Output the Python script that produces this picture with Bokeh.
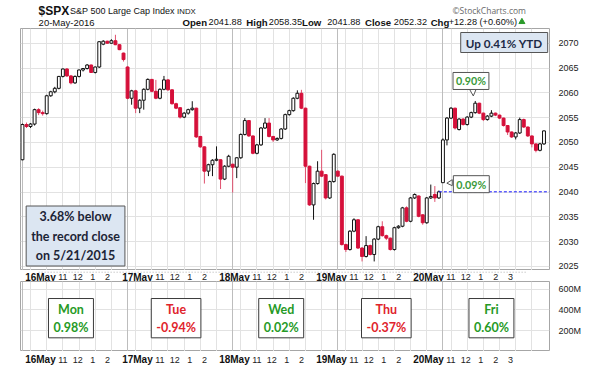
import numpy as np
from bokeh.plotting import figure
from bokeh.models import (Range1d, FixedTicker, Grid, Label, ColumnDataSource,
                          PrintfTickFormatter)
from bokeh.layouts import column
from bokeh.core.properties import value
from bokeh.embed import file_html
from bokeh.resources import INLINE

# ---------------- data ----------------
day_labels = ["16May", "17May", "18May", "19May", "20May"]
weekdays = ["Mon", "Tue", "Wed", "Thu", "Fri"]
day_change_pct = [0.98, -0.94, 0.02, -0.37, 0.60]
hour_ticks = [10, 11, 12, 13, 14, 15]
hour_tick_labels = ["", "11", "12", "1", "2", "3"]
bars_per_day = 26
price_ticks = [2025, 2030, 2035, 2040, 2045, 2050, 2055, 2060, 2065, 2070]
volume_ticks = [200, 400, 600]
ytd_pct = 0.41
record_gap_pct = 3.68
record_date = "5/21/2015"
hdr_names = ["Open", "High", "Low", "Close", "Chg"]
hdr_values = ["2041.88", "2058.35", "2041.88", "2052.32", "+12.28 (+0.60%)"]

opens = [
    2046.5, 2053.6, 2053.2, 2053.7, 2056.6, 2056.0, 2055.8, 2059.4, 2060.2, 2060.9, 2063.3, 2064.8, 2063.4,
    2062.0, 2063.3, 2064.6, 2064.9, 2065.6, 2064.1, 2065.2, 2069.8, 2070.4, 2070.0, 2070.5, 2069.7, 2068.0,
    2065.2, 2058.9, 2060.4, 2056.9, 2058.5, 2060.7, 2062.7, 2060.3, 2058.9, 2060.7, 2062.6, 2060.6, 2057.8,
    2057.0, 2055.1, 2055.9, 2056.6, 2056.9, 2051.2, 2049.1, 2044.2, 2045.5, 2046.4, 2046.5, 2042.6, 2045.2,
    2045.6, 2045.0, 2046.9, 2051.6, 2054.4, 2051.3, 2047.8, 2049.5, 2052.9, 2053.9, 2051.2, 2050.5, 2050.8,
    2052.7, 2055.6, 2056.4, 2058.9, 2059.9, 2056.9, 2045.2, 2037.4, 2041.7, 2044.2, 2043.5, 2038.8, 2042.1,
    2044.2, 2043.2, 2029.4, 2028.4, 2032.1, 2034.4, 2028.7, 2027.0, 2029.2, 2027.4, 2030.5, 2033.0, 2031.2,
    2030.7, 2028.4, 2032.8, 2033.1, 2036.8, 2034.1, 2038.8, 2039.2, 2035.4, 2033.8, 2038.8, 2039.5, 2038.8,
    2041.88, 2050.5, 2054.9, 2056.9, 2052.6, 2054.7, 2053.6, 2055.1, 2056.0, 2057.9, 2055.9, 2054.6, 2055.3,
    2055.9, 2055.5, 2054.9, 2053.4, 2052.1, 2051.1, 2051.9, 2054.6, 2053.1, 2051.3, 2049.7, 2048.4, 2049.7,
]
highs = [
    2053.8, 2054.0, 2053.9, 2056.8, 2056.9, 2056.4, 2059.6, 2060.4, 2061.2, 2063.4, 2064.9, 2065.0, 2063.6,
    2063.5, 2064.7, 2065.0, 2065.8, 2065.7, 2065.3, 2070.4, 2070.6, 2070.5, 2070.8, 2071.7, 2069.8, 2068.1,
    2065.4, 2060.6, 2060.6, 2058.7, 2060.9, 2062.9, 2062.8, 2062.6, 2060.9, 2063.4, 2062.8, 2060.7, 2058.0,
    2057.1, 2056.1, 2056.8, 2058.3, 2057.0, 2051.3, 2049.2, 2045.7, 2046.6, 2049.2, 2046.6, 2045.4, 2047.5,
    2045.7, 2047.0, 2051.8, 2054.9, 2054.5, 2051.4, 2049.7, 2053.1, 2054.9, 2054.9, 2051.3, 2051.0, 2052.9,
    2055.8, 2056.6, 2059.1, 2060.5, 2060.6, 2057.0, 2045.3, 2041.9, 2046.2, 2048.5, 2043.6, 2042.3, 2047.8,
    2044.4, 2043.3, 2029.6, 2032.3, 2034.7, 2034.5, 2028.9, 2031.1, 2029.4, 2030.7, 2033.2, 2034.1, 2031.4,
    2030.8, 2033.0, 2033.3, 2037.0, 2037.1, 2039.0, 2039.7, 2039.3, 2035.5, 2039.0, 2041.5, 2041.2, 2040.3,
    2050.8, 2055.1, 2057.1, 2057.0, 2054.9, 2054.9, 2055.3, 2056.2, 2058.35, 2058.0, 2056.0, 2055.5, 2056.5,
    2056.0, 2055.6, 2055.0, 2053.5, 2052.2, 2052.1, 2055.0, 2054.8, 2053.2, 2051.4, 2049.8, 2049.9, 2052.4,
]
lows = [
    2046.4, 2052.9, 2052.9, 2053.4, 2055.5, 2055.4, 2055.6, 2059.2, 2059.9, 2060.7, 2063.1, 2063.2, 2061.7,
    2061.8, 2063.1, 2064.3, 2064.7, 2064.0, 2063.9, 2065.0, 2069.6, 2069.9, 2069.9, 2069.6, 2068.6, 2066.3,
    2058.7, 2057.6, 2055.9, 2055.9, 2056.6, 2060.5, 2060.1, 2058.7, 2058.7, 2060.5, 2060.4, 2057.6, 2056.7,
    2054.8, 2054.9, 2055.6, 2056.4, 2050.9, 2048.9, 2041.7, 2043.2, 2043.2, 2046.2, 2040.6, 2042.4, 2045.0,
    2039.9, 2042.8, 2046.7, 2051.4, 2051.1, 2047.6, 2047.6, 2049.3, 2052.7, 2051.0, 2050.1, 2050.3, 2050.6,
    2052.5, 2055.4, 2056.2, 2058.7, 2056.7, 2041.8, 2037.2, 2034.4, 2041.5, 2043.0, 2038.5, 2038.6, 2041.9,
    2043.0, 2029.2, 2027.9, 2028.2, 2031.9, 2028.5, 2026.0, 2026.8, 2027.2, 2026.0, 2030.3, 2031.0, 2030.3,
    2028.2, 2028.2, 2032.6, 2032.9, 2033.9, 2033.9, 2038.6, 2034.9, 2033.4, 2033.6, 2038.6, 2038.0, 2038.6,
    2041.88, 2049.4, 2054.7, 2052.6, 2052.4, 2053.4, 2053.4, 2054.9, 2055.8, 2055.7, 2054.3, 2054.4, 2055.1,
    2055.3, 2054.7, 2053.2, 2051.5, 2050.9, 2050.6, 2051.7, 2052.9, 2051.1, 2049.0, 2048.0, 2048.2, 2049.5,
]
closes = [
    2053.6, 2053.2, 2053.7, 2056.6, 2056.0, 2055.8, 2059.4, 2060.2, 2060.9, 2063.3, 2064.8, 2063.4, 2062.0,
    2063.3, 2064.6, 2064.9, 2065.6, 2064.1, 2065.2, 2070.3, 2070.4, 2070.0, 2070.5, 2069.7, 2068.7, 2066.7,
    2058.9, 2060.4, 2056.9, 2058.5, 2060.7, 2062.7, 2060.3, 2058.9, 2060.7, 2062.6, 2060.6, 2057.8, 2056.9,
    2055.1, 2055.9, 2056.6, 2056.9, 2051.1, 2049.1, 2044.2, 2045.5, 2046.4, 2046.6, 2042.6, 2045.2, 2047.2,
    2045.0, 2046.9, 2051.6, 2054.4, 2051.3, 2047.8, 2049.5, 2052.9, 2053.9, 2051.2, 2050.5, 2050.8, 2052.7,
    2055.6, 2056.4, 2058.9, 2059.9, 2056.9, 2045.2, 2037.4, 2041.7, 2044.2, 2043.2, 2038.8, 2042.1, 2047.6,
    2043.2, 2029.4, 2028.4, 2032.1, 2034.4, 2028.7, 2027.0, 2029.2, 2027.4, 2030.5, 2033.0, 2031.2, 2030.7,
    2028.4, 2032.8, 2033.1, 2036.8, 2034.1, 2038.8, 2039.5, 2035.1, 2033.8, 2038.8, 2039.1, 2038.8, 2040.04,
    2050.5, 2054.9, 2056.9, 2052.9, 2054.7, 2053.6, 2055.1, 2056.0, 2057.9, 2055.9, 2054.6, 2055.3, 2055.9,
    2055.5, 2054.9, 2053.4, 2052.1, 2051.1, 2051.9, 2054.6, 2053.1, 2051.3, 2049.7, 2048.4, 2049.7, 2052.32,
]

# ---------------- layout constants (canvas ~ reference pixels) ----------------
W = 584
H_HEAD, H_PRICE, H_BAND1, H_VOL, H_BAND2 = 28, 242, 11, 70, 16
K = (559 - 20) / (563 - 20)            # slight horizontal squeeze to fit the axis labels
def fxr(x): return 20 + (x - 20) * K
PX_PER_BAR = 4.15 * K
PX_PER_PT = 4.96
X0 = fxr(22)                           # canvas x of bar 0
FL, FR = 20, 559                       # price/volume frame in canvas px
xr_frame = ((FL - X0) / PX_PER_BAR, (FR - X0) / PX_PER_BAR)
xr_full = ((0 - X0) / PX_PER_BAR, (W - X0) / PX_PER_BAR)
P_TOP = 2070 + (42.7 - H_HEAD) / PX_PER_PT
P_BOT = 2070 - (H_HEAD + H_PRICE - 42.7) / PX_PER_PT
V_TOP = 600 * H_VOL / (H_VOL - 7.5)

RED = "#d5103a"
GREEN = "#269a26"
TXTRED = "#e0242c"
GRID = "#e2e2e2"
DAYGRID = "#bdbdbd"
AFONT = "Lato"
HFONT = "Liberation Sans"

n = len(closes)
idx = np.arange(n)
day_starts = [d * bars_per_day for d in range(len(day_labels))]
hour_pos = [ds + (h - 9.5) * 4 for ds in day_starts for h in hour_ticks]

def ref_idx(x): return (x - 22) / 4.15
def ref_price(y): return 2070 - (y - 42.7) / PX_PER_PT

# ---------------- header ----------------
hdr = figure(width=W, height=H_HEAD, x_range=Range1d(0, W), y_range=Range1d(H_HEAD, 0),
             x_axis_type=None, y_axis_type=None, toolbar_location=None, output_backend="svg",
             min_border=0, outline_line_color=None, title=None)
L1, L2 = 10.5, 21.8
txt = dict(text_font=value(HFONT), text_color="#111111", text_baseline="middle")
hdr.text(x=[fxr(20)], y=[L1], text=["$SPX"], text_font_size="12px", text_font_style="bold", **txt)
hdr.text(x=[fxr(55)], y=[L1], text=["S&P 500 Large Cap Index"], text_font_size="9px", **txt)
hdr.text(x=[fxr(174)], y=[L1], text=["INDX"], text_font_size="7.8px", **txt)
hdr.text(x=[fxr(20)], y=[L2], text=["20-May-2016"], text_font_size="9.5px", **txt)
name_x = [180, 251, 313, 383, 456]
val_x = [209, 276, 341, 415, 476]
hdr.text(x=[fxr(v) for v in name_x], y=[L2] * 5, text=hdr_names, text_font_size="9.6px",
         text_font_style="bold", **txt)
hdr.text(x=[fxr(v) for v in val_x], y=[L2] * 5, text=hdr_values, text_font_size="9.2px", **txt)
hdr.scatter(x=[fxr(557.5)], y=[L2 - 0.5], marker="triangle", size=6, color="#2a9a2a")
hdr.text(x=[fxr(562)], y=[L1 - 0.5], text=["\u00a9StockCharts.com"], text_font=value("Open Sans"),
         text_font_size="8.5px", text_color="#6a6a6a", text_align="right", text_baseline="middle")

# ---------------- price panel ----------------
p = figure(width=W, height=H_PRICE, x_range=Range1d(*xr_frame), y_range=Range1d(P_BOT, P_TOP),
           x_axis_type=None, y_axis_location="right", toolbar_location=None, output_backend="svg",
           min_border=0, min_border_left=FL, min_border_right=W - FR, title=None)
p.outline_line_color = "#a6a6a6"
p.yaxis.ticker = FixedTicker(ticks=price_ticks)
p.yaxis.axis_line_color = None
p.yaxis.major_tick_line_color = None
p.yaxis.minor_tick_line_color = None
p.yaxis.major_label_standoff = 3
p.yaxis.major_label_text_font = HFONT
p.yaxis.major_label_text_font_size = "9px"
p.yaxis.major_label_text_color = "#222222"
p.ygrid.ticker = FixedTicker(ticks=price_ticks)
p.ygrid.grid_line_color = GRID
p.add_layout(Grid(dimension=0, ticker=FixedTicker(ticks=hour_pos), grid_line_color=GRID))
p.add_layout(Grid(dimension=0, ticker=FixedTicker(ticks=day_starts), grid_line_color=DAYGRID))

o = np.array(opens); c = np.array(closes)
up = c >= o
src = ColumnDataSource(dict(
    x=idx, high=highs, low=lows,
    top=np.maximum(o, c), bot=np.minimum(o, c),
    fill=np.where(up, "white", RED), line=np.where(up, "#111111", RED),
    wick=np.where(up, "#111111", "#e0506e"),
))
p.segment(x0="x", y0="high", x1="x", y1="low", line_color="wick", line_width=1, source=src)
p.vbar(x="x", width=0.72, top="top", bottom="bot", fill_color="fill", line_color="line",
       line_width=1, source=src)

# dashed previous-close line
prev_close_i = 4 * bars_per_day - 1
prev_close = closes[prev_close_i]
p.segment(x0=[prev_close_i], y0=[prev_close], x1=[xr_frame[1]], y1=[prev_close],
          line_color="#1a1aff", line_dash="3 2", line_width=1)

def boxed(fig, x, y, text, color, size, bg="white", border="#3a3a3a", pad=(4, 3),
          x_off=0, y_off=0, shadow=True, lh=1.2):
    kw = dict(x=x, y=y, text=text, text_font=AFONT, text_font_style="bold",
              text_font_size=f"{size}px", text_align="center", text_baseline="middle",
              text_line_height=lh, padding=pad)
    if shadow:
        fig.add_layout(Label(x_offset=x_off + 2.5, y_offset=y_off - 2.5, text_color="#999999",
                             text_alpha=0.0, background_fill_color="#8c8c8c",
                             background_fill_alpha=0.55, **kw))
    fig.add_layout(Label(x_offset=x_off, y_offset=y_off, text_color=color,
                         background_fill_color=bg, border_line_color=border,
                         border_line_width=1, **kw))

def tail(fig, ax, ay, pts):
    # small speech-bubble tail, points given in pixel offsets from a data anchor
    xs = [ax + dx / PX_PER_BAR for dx, dy in pts]
    ys = [ay - dy / PX_PER_PT for dx, dy in pts]
    fig.patch(xs, ys, fill_color="white", line_color="#555555", line_width=1)

# callouts on the last day
last0 = 4 * bars_per_day
hi_i = last0 + int(np.argmax(highs[last0:]))
tail(p, hi_i, highs[hi_i], [(-6, -12), (1, -12), (-2, -5)])
boxed(p, hi_i, highs[hi_i], f"{(highs[hi_i] / prev_close - 1) * 100:.2f}%", "#3a9a3a", 10.7,
      pad=(3, 2), x_off=-4.3, y_off=20, shadow=False, border="#555555")
tail(p, last0, opens[last0], [(9.5, -3), (9.5, 3), (4, 0.5)])
boxed(p, last0, opens[last0], f"{(opens[last0] / prev_close - 1) * 100:.2f}%", "#3a9a3a", 10.7,
      pad=(3, 2), x_off=28.4, y_off=-1.5, shadow=False, border="#555555")
boxed(p, ref_idx(516.5), ref_price(42), f"Up {ytd_pct:.2f}% YTD", "#1c2a46", 11.7,
      bg="#dce6f2", border="#555555", pad=(5, 3))
boxed(p, ref_idx(76.5), ref_price(235.5),
      f"{record_gap_pct:.2f}% below\nthe record close\non {record_date}", "#1c2436", 12.5,
      bg="#dce6f2", border="#555555", pad=(5, 3), lh=1.3)

# ---------------- bands with time labels ----------------
def band(height, dotted, ylab):
    b = figure(width=W, height=height, x_range=Range1d(*xr_full), y_range=Range1d(0, 1),
               x_axis_type=None, y_axis_type=None, toolbar_location=None, output_backend="svg",
               min_border=0, outline_line_color=None, title=None)
    if dotted:
        b.segment(x0=[xr_frame[0]] * 2, y0=[0.05, 0.95], x1=[xr_frame[1]] * 2, y1=[0.05, 0.95],
                  line_color="#9a9a9a", line_dash="1 2", line_width=1)
    b.text(x=day_starts, y=[ylab] * len(day_starts), text=day_labels, text_font=value(HFONT),
           text_font_size="10px", text_font_style="bold", text_color="#111111",
           text_align="center", text_baseline="middle")
    hx, ht = [], []
    for d, ds in enumerate(day_starts):
        for h, lab in zip(hour_ticks, hour_tick_labels):
            if lab == "" or (h == 15 and d != len(day_starts) - 1):
                continue
            hx.append(ds + (h - 9.5) * 4)
            ht.append(lab)
    b.text(x=hx, y=[ylab] * len(hx), text=ht, text_font=value(HFONT), text_font_size="9px",
           text_color="#222222", text_align="center", text_baseline="middle")
    return b

band1 = band(H_BAND1, True, 0.5)

# ---------------- volume panel ----------------
pv = figure(width=W, height=H_VOL, x_range=Range1d(*xr_frame), y_range=Range1d(0, V_TOP),
            x_axis_type=None, y_axis_location="right", toolbar_location=None, output_backend="svg",
            min_border=0, min_border_left=FL, min_border_right=W - FR, title=None)
pv.outline_line_color = "#a6a6a6"
pv.yaxis.ticker = FixedTicker(ticks=volume_ticks)
pv.yaxis.formatter = PrintfTickFormatter(format="%dM")
pv.yaxis.axis_line_color = None
pv.yaxis.major_tick_line_color = None
pv.yaxis.minor_tick_line_color = None
pv.yaxis.major_label_standoff = 3
pv.yaxis.major_label_text_font = HFONT
pv.yaxis.major_label_text_font_size = "9px"
pv.yaxis.major_label_text_color = "#222222"
pv.ygrid.ticker = FixedTicker(ticks=volume_ticks)
pv.ygrid.grid_line_color = GRID
pv.add_layout(Grid(dimension=0, ticker=FixedTicker(ticks=hour_pos), grid_line_color=GRID))
pv.add_layout(Grid(dimension=0, ticker=FixedTicker(ticks=day_starts), grid_line_color=DAYGRID))

vol_box_y = V_TOP * (1 - 44 / 84)
for d, (wd, pct) in enumerate(zip(weekdays, day_change_pct)):
    col = GREEN if pct >= 0 else TXTRED
    boxed(pv, day_starts[d] + 12, vol_box_y, f"{wd}\n{pct:.2f}%", col, 12.5, pad=(5, 3), lh=1.22)

band2 = band(H_BAND2, False, 0.5)

layout = column(hdr, p, band1, pv, band2, spacing=0)

open("out.html", "w").write(file_html(layout, INLINE))
